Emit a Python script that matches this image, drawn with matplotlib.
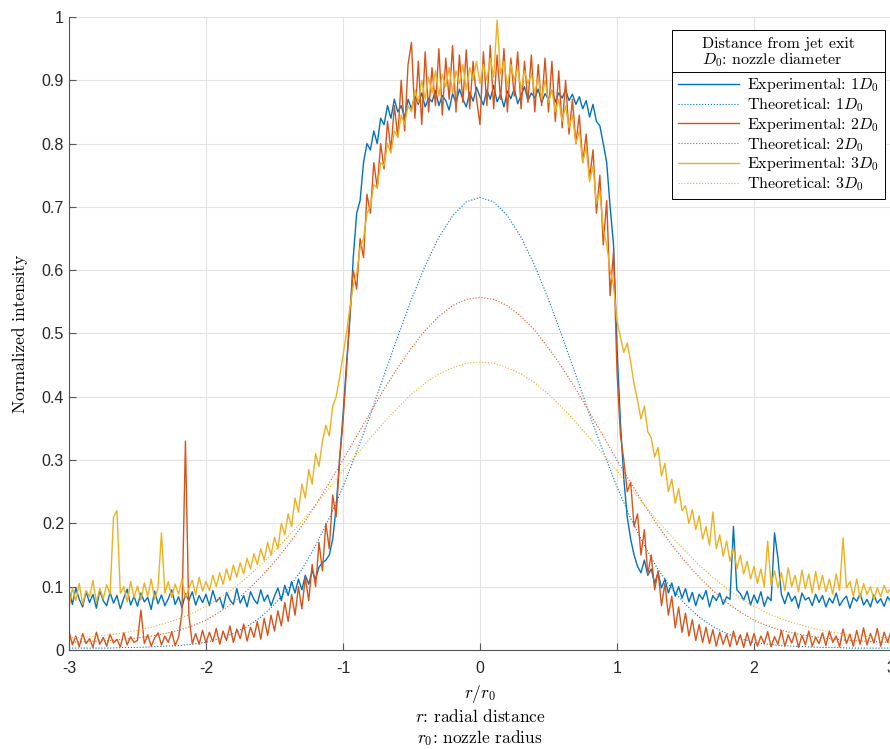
import numpy as np
import matplotlib
matplotlib.use("Agg")
import matplotlib.pyplot as plt
from matplotlib.lines import Line2D

plt.rcParams['mathtext.fontset'] = 'cm'
plt.rcParams['axes.unicode_minus'] = False

# radial positions, r/r0
r_exp = np.linspace(-3, 3, 241)
r_theo = np.linspace(-3, 3, 61)

# measured intensity, one row per half unit of r/r0
exp_1d = [
    0.095, 0.072, 0.098, 0.080, 0.068, 0.092, 0.075, 0.088, 0.066, 0.094, 0.078, 0.070, 0.091, 0.074, 0.086, 0.065, 0.082, 0.096, 0.071, 0.085,
    0.069, 0.090, 0.076, 0.083, 0.064, 0.093, 0.073, 0.087, 0.070, 0.081, 0.095, 0.072, 0.084, 0.067, 0.089, 0.078, 0.092, 0.071, 0.086, 0.075,
    0.088, 0.070, 0.094, 0.076, 0.083, 0.066, 0.091, 0.079, 0.072, 0.097, 0.074, 0.086, 0.068, 0.092, 0.080, 0.073, 0.095, 0.077, 0.087, 0.070,
    0.085, 0.098, 0.078, 0.102, 0.086, 0.108, 0.090, 0.112, 0.095, 0.118, 0.104, 0.125, 0.112, 0.131, 0.138, 0.142, 0.150, 0.175, 0.225, 0.300,
    0.370, 0.450, 0.520, 0.620, 0.690, 0.710, 0.770, 0.800, 0.790, 0.820, 0.800, 0.840, 0.830, 0.860, 0.840, 0.870, 0.850, 0.860, 0.840, 0.870,
    0.855, 0.875, 0.862, 0.880, 0.858, 0.872, 0.866, 0.884, 0.860, 0.876, 0.868, 0.853, 0.879, 0.864, 0.886, 0.870, 0.858, 0.881, 0.867, 0.889,
    0.874, 0.861, 0.885, 0.870, 0.892, 0.866, 0.878, 0.858, 0.883, 0.871, 0.887, 0.863, 0.876, 0.890, 0.868, 0.880, 0.872, 0.886, 0.865, 0.879,
    0.870, 0.884, 0.866, 0.880, 0.872, 0.885, 0.868, 0.878, 0.862, 0.874, 0.855, 0.868, 0.842, 0.862, 0.835, 0.828, 0.800, 0.770, 0.700, 0.640,
    0.480, 0.360, 0.270, 0.210, 0.175, 0.150, 0.132, 0.122, 0.142, 0.118, 0.128, 0.105, 0.122, 0.098, 0.112, 0.090, 0.106, 0.085, 0.100, 0.082,
    0.097, 0.076, 0.091, 0.070, 0.088, 0.080, 0.094, 0.068, 0.086, 0.078, 0.090, 0.072, 0.084, 0.080, 0.195, 0.095, 0.089, 0.079, 0.093, 0.071,
    0.087, 0.074, 0.092, 0.069, 0.084, 0.078, 0.185, 0.145, 0.088, 0.073, 0.091, 0.077, 0.085, 0.066, 0.090, 0.079, 0.083, 0.070, 0.088, 0.075,
    0.086, 0.068, 0.082, 0.074, 0.090, 0.070, 0.079, 0.085, 0.066, 0.083, 0.077, 0.089, 0.071, 0.080, 0.068, 0.087, 0.074, 0.081, 0.069, 0.084,
    0.076,
]
exp_2d = [
    0.030, 0.008, 0.022, 0.005, 0.026, 0.010, 0.018, 0.004, 0.028, 0.009, 0.020, 0.006, 0.025, 0.011, 0.017, 0.005, 0.027, 0.008, 0.021, 0.012,
    0.015, 0.063, 0.010, 0.024, 0.006, 0.019, 0.027, 0.008, 0.022, 0.012, 0.029, 0.007, 0.020, 0.060, 0.330, 0.055, 0.010, 0.026, 0.009, 0.031,
    0.011, 0.028, 0.013, 0.034, 0.009, 0.030, 0.015, 0.038, 0.012, 0.033, 0.018, 0.041, 0.014, 0.036, 0.020, 0.045, 0.017, 0.050, 0.023, 0.055,
    0.030, 0.062, 0.038, 0.075, 0.045, 0.088, 0.055, 0.100, 0.065, 0.115, 0.078, 0.135, 0.100, 0.170, 0.125, 0.200, 0.160, 0.245, 0.210, 0.300,
    0.360, 0.440, 0.530, 0.600, 0.570, 0.650, 0.620, 0.720, 0.690, 0.770, 0.730, 0.800, 0.760, 0.835, 0.790, 0.860, 0.810, 0.900, 0.820, 0.925,
    0.960, 0.840, 0.930, 0.830, 0.945, 0.850, 0.920, 0.860, 0.950, 0.845, 0.935, 0.870, 0.955, 0.850, 0.940, 0.865, 0.948, 0.855, 0.930, 0.870,
    0.830, 0.945, 0.860, 0.955, 0.855, 0.940, 0.870, 0.950, 0.850, 0.935, 0.875, 0.945, 0.855, 0.930, 0.865, 0.940, 0.850, 0.925, 0.860, 0.935,
    0.850, 0.930, 0.835, 0.915, 0.825, 0.900, 0.815, 0.870, 0.800, 0.845, 0.770, 0.815, 0.745, 0.790, 0.690, 0.750, 0.640, 0.710, 0.560, 0.630,
    0.440, 0.340, 0.300, 0.250, 0.265, 0.195, 0.215, 0.150, 0.190, 0.120, 0.150, 0.095, 0.125, 0.070, 0.105, 0.055, 0.085, 0.035, 0.068, 0.028,
    0.058, 0.022, 0.048, 0.015, 0.040, 0.012, 0.036, 0.010, 0.032, 0.006, 0.028, 0.009, 0.025, 0.005, 0.030, 0.008, 0.024, 0.004, 0.027, 0.007,
    0.026, 0.006, 0.022, 0.010, 0.029, 0.005, 0.021, 0.009, 0.031, 0.006, 0.024, 0.011, 0.028, 0.004, 0.023, 0.008, 0.030, 0.006, 0.020, 0.010,
    0.027, 0.007, 0.030, 0.012, 0.022, 0.005, 0.033, 0.010, 0.025, 0.006, 0.031, 0.009, 0.035, 0.008, 0.026, 0.011, 0.034, 0.006, 0.028, 0.012,
    0.030,
]
exp_3d = [
    0.065, 0.098, 0.078, 0.105, 0.072, 0.094, 0.084, 0.110, 0.075, 0.097, 0.081, 0.103, 0.088, 0.210, 0.220, 0.090, 0.100, 0.076, 0.108, 0.083,
    0.101, 0.079, 0.106, 0.085, 0.112, 0.080, 0.098, 0.185, 0.090, 0.108, 0.083, 0.104, 0.088, 0.112, 0.082, 0.097, 0.110, 0.087, 0.115, 0.093,
    0.108, 0.094, 0.118, 0.100, 0.122, 0.104, 0.128, 0.110, 0.134, 0.115, 0.138, 0.120, 0.145, 0.128, 0.152, 0.135, 0.160, 0.142, 0.170, 0.150,
    0.178, 0.160, 0.200, 0.182, 0.215, 0.195, 0.240, 0.218, 0.262, 0.240, 0.285, 0.262, 0.310, 0.290, 0.330, 0.355, 0.338, 0.385, 0.400, 0.430,
    0.465, 0.500, 0.540, 0.575, 0.595, 0.635, 0.650, 0.690, 0.700, 0.735, 0.730, 0.770, 0.765, 0.800, 0.785, 0.820, 0.810, 0.845, 0.830, 0.860,
    0.850, 0.885, 0.865, 0.900, 0.870, 0.905, 0.880, 0.915, 0.875, 0.910, 0.890, 0.920, 0.880, 0.915, 0.895, 0.925, 0.885, 0.920, 0.900, 0.930,
    0.895, 0.925, 0.900, 0.935, 0.905, 0.995, 0.910, 0.930, 0.890, 0.925, 0.900, 0.920, 0.885, 0.915, 0.895, 0.910, 0.880, 0.905, 0.870, 0.900,
    0.865, 0.885, 0.850, 0.870, 0.835, 0.860, 0.825, 0.845, 0.800, 0.820, 0.770, 0.795, 0.740, 0.765, 0.705, 0.725, 0.665, 0.640, 0.600, 0.575,
    0.520, 0.495, 0.470, 0.485, 0.455, 0.420, 0.395, 0.365, 0.385, 0.345, 0.335, 0.305, 0.320, 0.275, 0.295, 0.250, 0.270, 0.232, 0.255, 0.220,
    0.228, 0.200, 0.222, 0.190, 0.212, 0.175, 0.195, 0.165, 0.218, 0.160, 0.182, 0.148, 0.172, 0.140, 0.162, 0.128, 0.150, 0.120, 0.140, 0.112,
    0.132, 0.105, 0.128, 0.100, 0.172, 0.102, 0.125, 0.098, 0.122, 0.094, 0.130, 0.100, 0.118, 0.092, 0.126, 0.097, 0.120, 0.090, 0.124, 0.095,
    0.118, 0.092, 0.112, 0.088, 0.120, 0.094, 0.177, 0.098, 0.108, 0.085, 0.112, 0.082, 0.105, 0.088, 0.100, 0.080, 0.098, 0.084, 0.102, 0.090,
    0.098,
]

# model profiles
theo_1d = [
    0.003, 0.003, 0.003, 0.003, 0.004, 0.004, 0.005, 0.006, 0.007, 0.009, 0.012, 0.018, 0.026, 0.037, 0.052, 0.072,
    0.097, 0.127, 0.165, 0.208, 0.258, 0.313, 0.372, 0.434, 0.495, 0.554, 0.607, 0.652, 0.686, 0.708, 0.715, 0.708,
    0.686, 0.652, 0.607, 0.554, 0.495, 0.434, 0.372, 0.313, 0.258, 0.208, 0.165, 0.127, 0.097, 0.072, 0.052, 0.037,
    0.026, 0.018, 0.012, 0.009, 0.007, 0.006, 0.005, 0.004, 0.004, 0.003, 0.003, 0.003, 0.003,
]
theo_2d = [
    0.012, 0.013, 0.014, 0.015, 0.017, 0.019, 0.022, 0.026, 0.031, 0.038, 0.047, 0.060, 0.075, 0.094, 0.115, 0.139,
    0.166, 0.196, 0.229, 0.264, 0.300, 0.338, 0.375, 0.412, 0.446, 0.477, 0.505, 0.527, 0.544, 0.554, 0.557, 0.554,
    0.544, 0.527, 0.505, 0.477, 0.446, 0.412, 0.375, 0.338, 0.300, 0.264, 0.229, 0.196, 0.166, 0.139, 0.115, 0.094,
    0.075, 0.060, 0.047, 0.038, 0.031, 0.026, 0.022, 0.019, 0.017, 0.015, 0.014, 0.013, 0.012,
]
theo_3d = [
    0.019, 0.020, 0.022, 0.024, 0.027, 0.031, 0.036, 0.042, 0.049, 0.058, 0.069, 0.082, 0.097, 0.115, 0.134, 0.156,
    0.179, 0.203, 0.229, 0.256, 0.283, 0.309, 0.335, 0.360, 0.383, 0.404, 0.422, 0.436, 0.446, 0.453, 0.455, 0.453,
    0.446, 0.436, 0.422, 0.404, 0.383, 0.360, 0.335, 0.309, 0.283, 0.256, 0.229, 0.203, 0.179, 0.156, 0.134, 0.115,
    0.097, 0.082, 0.069, 0.058, 0.049, 0.042, 0.036, 0.031, 0.027, 0.024, 0.022, 0.020, 0.019,
]

distances = ['1', '2', '3']
colors = ['#0072BD', '#D95319', '#EDB120']
x_ticks = [-3, -2, -1, 0, 1, 2, 3]
y_ticks = [0, 0.1, 0.2, 0.3, 0.4, 0.5, 0.6, 0.7, 0.8, 0.9, 1]

fig = plt.figure(figsize=(8.9, 7.49), dpi=100)
ax = fig.add_axes([0.0775, 0.1322, 0.9236, 0.8451])

for d, c, ye, yt in zip(distances, colors, [exp_1d, exp_2d, exp_3d], [theo_1d, theo_2d, theo_3d]):
    ax.plot(r_exp, ye, '-', color=c, lw=1.0, label=r'Experimental: $%sD_0$' % d)
    ax.plot(r_theo, yt, ':', color=c, lw=0.8, label=r'Theoretical: $%sD_0$' % d)

ax.set_xlim(-3, 3)
ax.set_ylim(0, 1)
ax.set_xticks(x_ticks)
ax.set_xticklabels([str(t) for t in x_ticks])
ax.set_yticks(y_ticks)
ax.set_yticklabels(['0' if t == 0 else ('1' if t == 1 else '%g' % t) for t in y_ticks])
ax.grid(True, color='#e3e3e3', lw=0.8)
ax.set_axisbelow(True)
for s in ['top', 'right']:
    ax.spines[s].set_visible(False)
for s in ['left', 'bottom']:
    ax.spines[s].set_color('#555555')
    ax.spines[s].set_linewidth(0.8)
ax.tick_params(direction='in', length=5, width=0.8, color='#555555', labelcolor='#262626')
for lab in ax.get_xticklabels() + ax.get_yticklabels():
    lab.set_fontfamily('Liberation Sans')
    lab.set_fontsize(11.5)
ax.tick_params(axis='x', pad=8)

ax.set_xlabel('$r/r_0$\n$r$: radial distance\n$r_0$: nozzle radius',
              fontfamily='cmr10', fontsize=12.5, linespacing=1.2, labelpad=5)
ax.set_ylabel('Normalized intensity', fontfamily='cmr10', fontsize=12.5, labelpad=10)

leg = ax.legend(loc='upper right', bbox_to_anchor=(0.993, 0.979), borderaxespad=0,
                title='Distance from jet exit\n$D_0$: nozzle diameter',
                prop={'family': 'cmr10', 'size': 11.5},
                title_fontproperties={'family': 'cmr10', 'size': 11.5},
                fancybox=False, edgecolor='black', framealpha=1,
                handlelength=3.8, labelspacing=0.12, handletextpad=0.5,
                borderpad=0.4)
leg.get_frame().set_linewidth(0.7)
leg.get_title().set_linespacing(1.0)
# extra room between the title block and the entries
leg._legend_box.sep = 5

# rule under the legend title
fig.canvas.draw()
inv = fig.transFigure.inverted()
fb = leg.get_frame().get_window_extent()
tb = leg._legend_title_box.get_window_extent()
x0, y0 = inv.transform((fb.x0, tb.y0 - 3))
x1, _ = inv.transform((fb.x1, tb.y0 - 3))
fig.add_artist(Line2D([x0, x1], [y0, y0], color='black', lw=0.7, transform=fig.transFigure))

fig.savefig('out.png', dpi=100)
